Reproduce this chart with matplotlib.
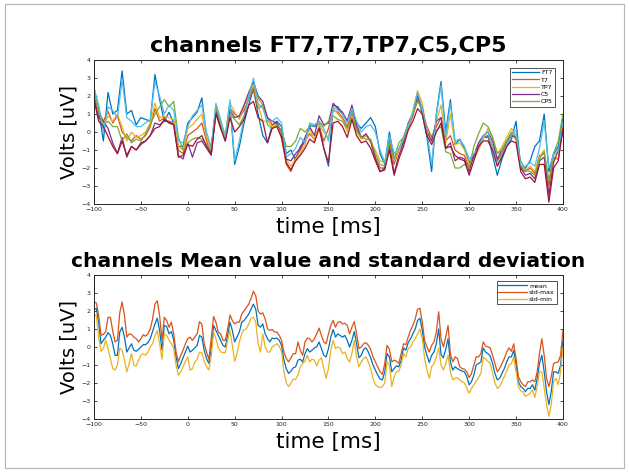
import numpy as np
import matplotlib
matplotlib.use('Agg')
import matplotlib.pyplot as plt
from matplotlib.patches import Rectangle

# time axis (ms)
t = np.arange(-100, 401, 5)
t2 = np.arange(-100, 400.1, 2.5)

FT7 = [2.5, 1.2, -0.5, 2.2, 1.0, 1.2, 3.4, 1.0, 1.2, 0.4, 0.8, 0.7, 0.6, 3.2, 1.8, 0.6, 1.1, 0.5, -0.8, -0.8,
       0.5, 0.8, 1.1, 1.9, -0.3, -0.8, 1.3, 0.3, -0.2, 1.6, -1.8, -0.8, 0.5, 1.5, 2.4, 1.0, -0.2, -0.6, 0.4, 0.6,
       0.3, -1.2, -1.0, -1.6, -0.8, -0.5, 0.4, 0.3, 0.5, -0.9, -1.9, 1.5, 1.4, 1.0, 0.6, 1.2, 0.5, 0.2, 0.5, 0.8,
       0.3, -1.2, -1.8, 0.0, -1.5, -1.0, -0.3, 0.4, 1.0, 2.1, 1.0, -0.3, -2.2, 1.0, 2.8, 0.0, 1.8, -0.7, -0.4, -0.9,
       -1.7, -1.3, -0.8, -0.3, -0.2, -1.3, -2.4, -1.5, -0.8, -0.4, 0.6, -2.0, -2.0, -1.6, -0.8, -0.5, 1.0, -2.2, -1.2, -0.8,
       0.8]
T7 = [2.05, 1.2, 0.6, 1.15, 0.5, 0.9, 0.0, -0.3, -0.5, -0.2, -0.4, -0.2, 0.3, 1.3, 0.6, 0.8, 0.5, 0.6, -1.0, -1.2,
      -0.2, 0.0, 0.2, 0.5, -0.5, -1.2, 1.2, 0.6, -0.3, 1.3, 1.0, 0.8, 1.2, 1.8, 2.4, 1.3, 1.5, 0.8, 0.4, 0.5,
      -0.3, -1.8, -2.2, -1.4, -1.0, -0.5, -0.1, -0.4, 0.3, -0.5, 0.2, 1.2, 1.1, 0.8, 0.3, 1.0, 0.2, -0.3, -0.2, -0.5,
      -1.4, -2.0, -2.0, -0.4, -1.8, -1.0, -0.5, 0.2, 0.9, 1.8, 1.2, 0.3, -0.3, 0.3, 0.8, -0.5, -0.2, -1.0, -1.2, -1.3,
      -2.0, -1.4, -0.9, -0.3, -0.3, -0.8, -1.6, -1.2, -0.6, -0.1, -0.4, -2.0, -2.2, -2.0, -2.3, -1.3, -1.2, -3.0, -1.4, -1.5,
      0.4]
TP7 = [2.25, 1.3, 0.3, 0.9, 0.6, 1.0, 0.3, -0.5, 0.0, -0.3, -0.2, 0.0, 0.5, 1.6, 0.8, 0.9, 0.8, 0.7, -0.8, -1.0,
       0.2, 0.4, 0.7, 1.0, -0.3, -1.0, 1.5, 0.6, -0.2, 1.6, 1.1, 0.7, 1.4, 2.0, 2.7, 1.5, 0.6, 0.6, 0.3, 0.4,
       -0.4, -1.5, -1.9, -1.5, -1.2, -0.7, 0.2, -0.5, 0.4, 0.0, -0.3, 1.3, 1.0, 0.7, 0.0, 0.9, 0.0, -0.4, -0.2, -0.6,
       -1.0, -1.6, -1.7, -0.8, -1.6, -1.0, -0.4, 0.3, 1.2, 2.3, 1.6, 0.1, -0.5, 0.6, 1.5, -0.6, 1.0, -0.7, -0.6, -1.0,
       -1.8, -1.5, -1.0, -0.4, 0.2, -0.3, -1.2, -0.8, -0.3, 0.2, -0.2, -1.8, -2.1, -1.9, -2.2, -1.4, -1.0, -3.6, -1.5, -1.5,
       0.2]
C5 = [1.9, 0.8, 0.6, 0.2, -0.6, -1.2, -0.3, -1.4, -0.8, -1.0, -0.7, -0.5, -0.2, 0.5, 0.4, 0.6, 0.6, 0.4, -1.3, -1.5,
      -0.6, -1.4, -0.6, -0.5, -0.9, -1.3, 1.1, 0.3, -0.5, 1.2, 0.8, 0.9, 1.5, 2.2, 2.8, 2.0, 1.7, 0.8, 0.6, 0.5,
      0.0, -1.5, -1.6, -1.2, -0.9, -0.3, 0.3, -0.2, 0.9, 0.4, 0.5, 1.6, 1.3, 1.1, 0.6, 1.5, 0.4, -0.3, -0.1, -0.5,
      -1.5, -2.2, -2.0, -0.7, -2.3, -1.3, -0.6, 0.5, 1.0, 2.0, 1.3, 0.0, -0.5, 0.6, 0.8, -0.9, -0.6, -1.6, -1.4, -1.5,
      -2.2, -1.3, -0.6, -0.2, 0.0, -0.5, -1.5, -1.0, -0.5, -0.2, -0.3, -2.0, -2.4, -2.3, -2.6, -1.6, -1.4, -3.5, -1.7, -1.0,
      0.0]
CP5 = [2.35, 1.3, 0.4, 0.6, 0.3, 0.3, -0.5, -0.1, -0.6, -0.4, -0.5, -0.1, 0.4, 1.0, 1.4, 1.8, 1.4, 1.7, -0.3, -1.0,
       -0.6, -0.4, -0.3, -0.4, -0.7, -1.1, 1.4, 0.5, -0.4, 1.0, 0.7, 0.4, 0.9, 2.0, 2.5, 1.9, 1.5, 0.4, 0.2, 0.4,
       0.1, -0.8, -0.8, -0.5, 0.2, 0.0, 0.3, 0.4, 0.6, 0.3, 0.6, 0.9, 0.7, 0.6, 0.2, 0.8, 0.1, -0.3, -0.4, -0.4,
       -1.2, -1.8, -1.9, -0.6, -1.5, -0.6, -0.3, 0.4, 1.0, 1.7, 1.3, 0.0, -0.2, 0.1, 0.3, -1.1, -1.2, -2.0, -2.0, -1.8,
       -2.0, -0.8, -0.1, 0.5, 0.3, -0.3, -1.2, -1.0, -0.5, 0.0, -0.3, -1.6, -2.1, -2.2, -2.4, -1.5, -1.1, -2.7, -1.2, -0.5,
       1.0]
# two more channels drawn without a legend entry
ch6 = [2.45, 1.5, 0.0, 1.4, 1.2, 0.8, 2.9, 0.8, 0.6, 0.3, 0.3, 0.5, 0.7, 2.8, 2.0, 1.0, 1.5, 1.2, -0.5, -0.6,
       0.3, 0.9, 1.2, 1.5, 0.0, -0.9, 1.6, 0.7, -0.3, 1.8, -1.6, -0.5, 0.8, 2.0, 3.0, 1.6, 1.3, 0.6, 0.6, 0.8,
       0.5, -1.4, -1.2, -0.9, -0.3, -0.6, 0.5, 0.4, 0.5, 0.2, -0.5, 1.4, 1.2, 1.0, 0.5, 1.3, 0.6, 0.0, 0.3, 0.4,
       0.0, -1.0, -1.7, -0.2, -1.2, -0.9, -0.4, 0.3, 1.1, 2.2, 1.3, 0.0, -1.8, 0.9, 2.6, -0.3, 1.6, -0.5, -0.4, -0.8,
       -1.5, -1.2, -0.9, -0.2, 0.0, -0.8, -1.8, -1.3, -0.7, -0.2, 0.1, -1.9, -1.9, -1.7, -1.9, -0.9, 0.6, -2.0, -1.3, -1.0,
       0.5]
ch7 = [1.8, 0.6, 0.3, -0.25, -0.8, -1.2, -0.5, -1.3, -0.8, -1.0, -0.6, -0.5, -0.2, 0.2, 0.3, 0.7, 0.5, 0.4, -1.4, -1.3,
       -0.7, -0.8, -0.4, -0.2, -0.8, -1.2, 1.0, 0.2, -0.5, 0.8, 0.0, 0.3, 0.7, 1.5, 1.7, 0.8, 0.6, -0.6, 0.2, 0.3,
       -0.3, -1.7, -2.1, -1.6, -1.3, -0.9, -0.4, -0.6, 0.2, -0.9, -1.7, 0.5, 0.6, 0.3, -0.3, 0.7, -0.2, -0.6, -0.5, -0.9,
       -1.6, -2.2, -2.1, -1.0, -2.4, -1.5, -0.8, 0.1, 0.6, 1.3, 1.0, -0.2, -0.7, 0.0, 0.5, -0.9, -0.8, -1.3, -1.5, -1.6,
       -2.4, -1.6, -0.8, -0.5, -0.5, -1.0, -1.9, -1.4, -0.8, -0.5, -0.6, -2.2, -2.6, -2.5, -2.8, -1.8, -1.8, -3.9, -2.0, -1.6,
       0.2]

mean_v = [2.07, 2.15, 1.38, 0.18, 0.37, 0.55, 0.8, 0.64, 0.18, -0.46,
          -0.46, 0.83, 1.1, 0.55, -0.28, -0.05, 0.18, -0.18, -0.24, -0.13,
          0.0, 0.13, 0.13, 0.24, 0.46, 0.86, 1.28, 1.6, 0.92, -0.18,
          1.2, 1.14, 0.73, 0.86, 0.37, -0.55, -1.2, -0.92, -0.6, -0.28,
          0.05, -0.28, -0.18, -0.05, 0.09, 0.64, 0.55, -0.18, -0.64, -0.92,
          -0.09, 1.2, 0.92, 0.64, 0.37, 0.09, 0.0, 0.64, 1.38, 0.92,
          0.28, 0.55, 0.83, 1.38, 1.47, 1.65, 1.83, 2.1, 2.38, 2.1,
          1.2, 1.1, 1.28, 0.73, 0.46, 0.28, 0.5, 0.46, 0.5, 0.37,
          0.09, -0.73, -1.2, -1.47, -1.34, -1.16, -1.1, -0.73, -0.68, -0.83,
          -0.37, -0.09, -0.28, -0.18, -0.05, 0.0, 0.28, -0.09, -0.46, -0.55,
          -0.09,
          0.55, 0.97, 0.55, 0.73, 0.64, 0.55, 0.64, 0.37, 0.0, 0.37,
          0.86, 0.18, -0.6, -0.46, -0.13, -0.05, -0.28, -0.6, -1.0, -1.28,
          -1.56, -1.78, -1.83, -1.38, -0.37, -0.55, -1.38, -1.2, -1.05, -1.1,
          -0.73, -0.05, -0.18, 0.24, 0.46, 0.73, 1.0, 1.47, 1.6, 0.92,
          0.0, -0.46, -0.86, -0.46, -0.28, 0.18, 1.0, -0.42, -0.6, -0.13,
          0.46, -0.83, -1.28, -1.1, -1.2, -1.28, -1.34, -1.38, -1.65, -2.1,
          -1.93, -1.56, -1.0, -0.92, -0.83, -0.05, -0.28, -0.37, -0.5, -0.92,
          -1.47, -1.83, -1.74, -1.47, -1.2, -0.83, -0.55, -0.55, -0.18, -1.0,
          -1.93, -2.2, -2.3, -2.48, -2.3, -2.3, -2.1, -2.4, -1.74, -0.92,
          -0.46, -1.38, -2.48, -3.2, -2.48, -1.38, -1.38, -1.47, -1.0, 0.37]
std_max = [2.5, 2.45, 1.75, 0.65, 0.7, 0.85, 1.65, 1.65, 0.9, 0.28,
           0.37, 1.9, 2.5, 1.75, 0.55, 0.73, 0.7, 0.55, 0.46, 0.28,
           0.46, 0.68, 0.6, 0.73, 1.0, 1.56, 2.38, 2.57, 1.74, 0.37,
           1.65, 1.47, 1.1, 1.38, 0.73, -0.28, -0.83, -0.46, -0.18, 0.18,
           0.46, 0.55, 0.37, 0.55, 0.73, 1.41, 1.28, 0.18, -0.28, -0.68,
           0.46, 1.69, 1.38, 0.83, 0.73, 0.37, 0.37, 1.0, 1.78, 1.47,
           1.28, 1.38, 1.38, 1.83, 2.0, 2.2, 2.38, 2.7, 3.1, 2.84,
           2.0, 1.83, 1.9, 1.56, 1.0, 0.92, 0.97, 0.83, 0.83, 0.64,
           0.37, -0.28, -0.64, -0.83, -0.6, -0.37, -0.37, 0.28, -0.18, -0.46,
           0.28, 0.5, 0.46, 0.28, 0.46, 0.73, 1.05, 0.64, 0.28, 0.18,
           0.73,
           1.2, 1.47, 1.1, 1.38, 1.41, 1.28, 1.32, 1.2, 0.73, 1.1,
           1.41, 0.73, -0.09, 0.0, 0.18, 0.24, 0.09, -0.13, -0.55, -0.83,
           -1.1, -1.38, -1.52, -0.92, 0.09, -0.13, -0.83, -0.73, -0.79, -0.92,
           -0.37, 0.18, 0.13, 0.55, 0.92, 1.2, 1.56, 2.1, 2.15, 1.38,
           0.37, 0.0, -0.28, 0.09, 0.28, 0.83, 1.96, 0.46, 0.0, 0.55,
           1.2, -0.37, -0.83, -0.55, -0.64, -1.1, -1.2, -1.23, -1.38, -1.7,
           -1.47, -1.0, -0.55, -0.55, -0.37, 0.28, 0.05, 0.0, -0.05, -0.46,
           -0.92, -1.38, -1.2, -0.92, -0.64, -0.28, -0.05, -0.24, 0.18, -0.64,
           -1.65, -1.93, -2.1, -2.2, -1.93, -1.93, -1.83, -1.93, -1.38, -0.37,
           0.46, -0.46, -1.74, -2.2, -1.65, -0.92, -0.86, -0.83, -0.46, 0.92]
std_min = [1.78, 1.74, 0.55, -0.24, -0.09, 0.37, -0.09, -0.64, -1.2, -1.28,
           -1.0, -0.05, -0.18, -0.73, -1.38, -0.92, -0.37, -1.0, -1.06, -0.73,
           -0.46, -0.37, -0.46, -0.28, 0.0, 0.18, 0.64, 0.92, 0.18, -0.68,
           0.73, 0.64, 0.37, 0.18, -0.09, -1.0, -1.56, -1.38, -1.1, -0.79,
           -0.55, -1.28, -1.2, -0.83, -0.68, -0.28, -0.31, -0.79, -1.1, -1.28,
           -0.55, 0.83, 0.46, 0.0, -0.28, -0.31, -0.31, 0.37, 0.92, 0.09,
           -0.79, -0.37, 0.28, 0.73, 0.97, 1.0, 1.28, 1.6, 1.65, 1.38,
           0.18, -0.28, 0.73, 0.0, -0.28, -0.28, 0.0, 0.09, 0.18, 0.05,
           -0.28, -1.38, -2.0, -2.2, -2.0, -1.78, -1.8, -1.56, -1.1, -0.92,
           -0.79, -0.46, -0.83, -0.68, -0.73, -1.05, -0.73, -0.6, -1.2, -1.74,
           -1.2,
           -0.18, 0.37, -0.09, 0.0, -0.05, -0.37, -0.28, -0.64, -0.83, -0.37,
           0.37, -0.55, -1.1, -0.83, -0.64, -0.55, -0.83, -1.2, -1.74, -2.1,
           -2.2, -2.26, -2.2, -2.0, -0.83, -1.0, -2.2, -1.65, -1.38, -1.34,
           -1.0, -0.37, -0.55, -0.09, 0.0, 0.28, 0.46, 0.73, 1.0, 0.46,
           -0.64, -1.28, -1.74, -1.1, -0.92, -0.55, -0.05, -1.0, -1.28, -0.92,
           -0.46, -1.38, -1.83, -1.74, -1.7, -1.83, -1.93, -2.0, -2.3, -2.57,
           -2.3, -2.1, -1.89, -1.7, -1.47, -0.55, -0.68, -0.79, -0.92, -1.47,
           -2.0, -2.3, -2.2, -1.93, -1.65, -1.34, -1.0, -0.92, -0.55, -1.38,
           -2.2, -2.44, -2.5, -2.75, -2.66, -2.57, -2.39, -2.8, -2.2, -1.38,
           -1.38, -2.3, -3.2, -3.85, -3.2, -1.93, -1.74, -2.1, -1.38, 0.0]

colors = ['#0072BD', '#D95319', '#EDB120', '#7E2F8E', '#77AC30', '#4DBEEE', '#A2142F']
channels = [FT7, T7, TP7, C5, CP5, ch6, ch7]
names = ['FT7', 'T7', 'TP7', 'C5', 'CP5', None, None]

plt.rcParams['font.family'] = 'DejaVu Sans'
fig = plt.figure(figsize=(6.29, 4.73), dpi=100)
fig.patches.append(Rectangle((0.008, 0.01), 0.984, 0.982, transform=fig.transFigure,
                             fill=False, edgecolor='#b4b4b4', linewidth=0.8))


def style_axes(ax):
    ax.set_xlim(-100, 400)
    ax.set_ylim(-4, 4)
    ax.set_xticks(np.arange(-100, 401, 50))
    ax.set_yticks(np.arange(-4, 5, 1))
    ax.tick_params(direction='in', length=2.5, width=0.6, labelsize=4.5,
                   top=True, right=True, colors='#262626', pad=2.5)
    for s in ax.spines.values():
        s.set_color('#262626')
        s.set_linewidth(0.7)
    ax.set_xlabel('time [ms]', fontsize=15.5, labelpad=3)
    ax.set_ylabel('Volts [uV]', fontsize=14, labelpad=2)


ax1 = fig.add_axes([0.1494, 0.5687, 0.7456, 0.3044])
for y, c, n in zip(channels, colors, names):
    ax1.plot(t, y, color=c, linewidth=0.9, label=n)
ax1.set_title('channels FT7,T7,TP7,C5,CP5', fontsize=16, fontweight='bold', pad=6)
style_axes(ax1)
handles, labels = ax1.get_legend_handles_labels()
ax1.legend(handles[:5], labels[:5], loc='upper right', fontsize=4.5, frameon=True, fancybox=False,
           edgecolor='#262626', handlelength=4.2, borderpad=0.4, labelspacing=0.3,
           handletextpad=0.4, borderaxespad=1.2).get_frame().set_linewidth(0.7)

ax2 = fig.add_axes([0.1494, 0.1142, 0.7456, 0.3044])
ax2.plot(t2, mean_v, color=colors[0], linewidth=0.9, label='mean')
ax2.plot(t2, std_max, color=colors[1], linewidth=0.9, label='std-max')
ax2.plot(t2, std_min, color=colors[2], linewidth=0.9, label='std-min')
ax2.set_title('channels Mean value and standard deviation', fontsize=14.6, fontweight='bold', pad=6)
style_axes(ax2)
ax2.legend(loc='upper right', fontsize=4.5, frameon=True, fancybox=False, edgecolor='#262626',
           handlelength=4.5, borderpad=0.3, labelspacing=0.2, handletextpad=0.4,
           borderaxespad=1.0).get_frame().set_linewidth(0.7)

plt.savefig('out.png', dpi=100)
